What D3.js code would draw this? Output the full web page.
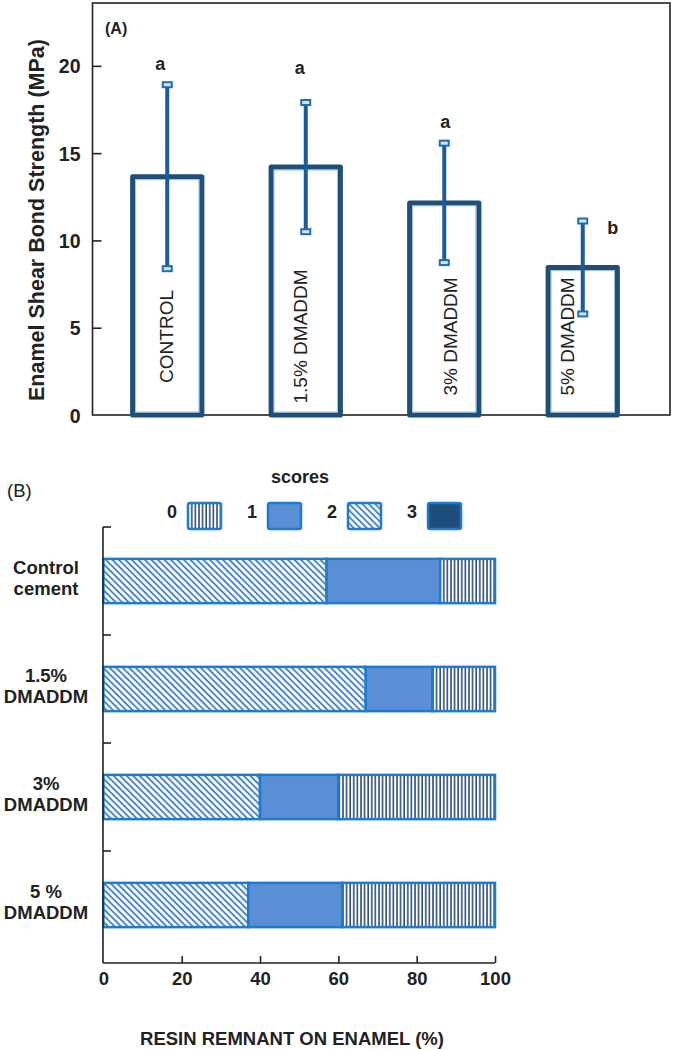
<!DOCTYPE html>
<html><head><meta charset="utf-8">
<script src="https://cdn.jsdelivr.net/npm/d3@7"></script>
<style>
html,body{margin:0;padding:0;background:#fff;}
svg{display:block;font-family:"Liberation Sans",Arial,sans-serif;}
</style></head>
<body>
<svg id="c" width="674" height="1050"></svg>
<script>
// ---------- Panel A data ----------
const catsA = ["CONTROL", "1.5% DMADDM", "3% DMADDM", "5% DMADDM"];
const meansA = [13.65, 14.2, 12.15, 8.45];
const sdA = [5.27, 3.7, 3.42, 2.66];
const lettersA = ["a", "a", "a", "b"];
const ticksA = [0, 5, 10, 15, 20];

// ---------- Panel B data ----------
const catsB = ["Control cement", "1.5% DMADDM", "3% DMADDM", "5 % DMADDM"];
const score0 = [14, 16, 40, 39];
const score1 = [29, 17, 20, 24];
const score2 = [57, 67, 40, 37];
const score3 = [0, 0, 0, 0];
const scoreKeys = ["0", "1", "2", "3"];
const ticksB = [0, 20, 40, 60, 80, 100];

const svg = d3.select("#c");
const NAVY = "#1f4e79", BLUE = "#1f7bd0", SOLID = "#5a8fd5", AX = "#222";

// ---------- defs ----------
const defs = svg.append("defs");
const ph = defs.append("pattern").attr("id", "hatch").attr("patternUnits", "userSpaceOnUse")
  .attr("width", 4.6).attr("height", 4.6).attr("patternTransform", "rotate(-45)");
ph.append("rect").attr("width", 4.6).attr("height", 4.6).attr("fill", "#fff");
ph.append("line").attr("x1", 1).attr("y1", 0).attr("x2", 1).attr("y2", 4.6)
  .attr("stroke", "#3d7fcf").attr("stroke-width", 1.8);
const pv = defs.append("pattern").attr("id", "vstripe").attr("patternUnits", "userSpaceOnUse")
  .attr("width", 3.6).attr("height", 10);
pv.append("rect").attr("width", 3.6).attr("height", 10).attr("fill", "#fff");
pv.append("line").attr("x1", 1).attr("y1", 0).attr("x2", 1).attr("y2", 10)
  .attr("stroke", "#2f4f7a").attr("stroke-width", 1.6);

const fills = {"0": "url(#vstripe)", "1": SOLID, "2": "url(#hatch)", "3": NAVY};

// ================= PANEL A =================
const A = {left: 92.5, right: 670, top: 3, bottom: 415};
const yA = d3.scaleLinear().domain([0, 23.6]).range([A.bottom, A.top]);
const xA = d3.scaleBand().domain(catsA).range([98, 652]).paddingInner(0.5).paddingOuter(0.25);

const gA = svg.append("g");
const yAxA = gA.append("g").attr("transform", `translate(${A.left},0)`)
  .call(d3.axisLeft(yA).tickValues(ticksA).tickSize(-9).tickPadding(12));
yAxA.select(".domain").remove();
yAxA.selectAll(".tick line").attr("stroke", AX).attr("stroke-width", 1.6);
yAxA.selectAll(".tick text").attr("fill", "#222").style("font-size", "19.5px").style("font-weight", "bold")
  .attr("dy", "0.36em");
yAxA.selectAll(".tick").filter(d => d === 0).select("line").remove();

gA.append("rect").attr("x", A.left).attr("y", A.top).attr("width", A.right - A.left)
  .attr("height", A.bottom - A.top).attr("fill", "none").attr("stroke", AX).attr("stroke-width", 1.6);

gA.append("text").attr("x", 37).attr("y", 220).attr("transform", "rotate(-90,37,220)")
  .attr("text-anchor", "middle").attr("dominant-baseline", "central")
  .style("font-size", "21.5px").style("font-weight", "bold").attr("fill", "#222")
  .text("Enamel Shear Bond Strength (MPa)");

gA.append("text").attr("x", 105).attr("y", 28).attr("dominant-baseline", "central")
  .style("font-size", "16px").style("font-weight", "bold").attr("fill", "#222").text("(A)");

// bars
catsA.forEach((c, i) => {
  const x0 = xA(c), w = xA.bandwidth(), yt = yA(meansA[i]), yb = yA(0);
  gA.append("rect").attr("x", x0).attr("y", yt).attr("width", w).attr("height", yb - yt)
    .attr("fill", "#fff").attr("stroke", NAVY).attr("stroke-width", 5).attr("stroke-linejoin", "round");
  gA.append("rect").attr("x", x0 + 3).attr("y", yt + 3).attr("width", w - 6).attr("height", yb - yt - 6)
    .attr("fill", "none").attr("stroke", "#8fb8e3").attr("stroke-width", 0.8);
});

// inner labels
const labelDx = [-1, -5, 6, -15];
catsA.forEach((c, i) => {
  const cx = xA(c) + xA.bandwidth() / 2 + labelDx[i], cy = yA(4.5);
  gA.append("text").attr("x", cx).attr("y", cy).attr("transform", `rotate(-90,${cx},${cy})`)
    .attr("text-anchor", "middle").attr("dominant-baseline", "central")
    .style("font-size", "19px").attr("fill", "#222").text(c);
});

// error bars
catsA.forEach((c, i) => {
  const cx = xA(c) + xA.bandwidth() / 2;
  const yHi = yA(meansA[i] + sdA[i]), yLo = yA(meansA[i] - sdA[i]);
  gA.append("line").attr("x1", cx).attr("x2", cx).attr("y1", yHi).attr("y2", yLo)
    .attr("stroke", "#1f5a98").attr("stroke-width", 4);
  [yHi, yLo].forEach(yy => {
    gA.append("rect").attr("x", cx - 4.5).attr("y", yy - 2.5).attr("width", 9).attr("height", 5)
      .attr("fill", "#d6e6f6").attr("stroke", "#1f6cb8").attr("stroke-width", 2);
  });
});

// letters
const letterOff = [[-7, -21], [-6, -35], [1, -21], [30, 7]];
catsA.forEach((c, i) => {
  const cx = xA(c) + xA.bandwidth() / 2 + letterOff[i][0];
  const cy = yA(meansA[i] + sdA[i]) + letterOff[i][1];
  gA.append("text").attr("x", cx).attr("y", cy).attr("text-anchor", "middle").attr("dominant-baseline", "central")
    .style("font-size", "18px").style("font-weight", "bold").attr("fill", "#222").text(lettersA[i]);
});

// ================= PANEL B =================
const xB = d3.scaleLinear().domain([0, 100]).range([103.4, 495]);
const yB = d3.scaleBand().domain(catsB).range([527, 959]).paddingInner(0.59).paddingOuter(0.295);
const gB = svg.append("g");
const axisY = 963, axisX = 103;

gB.append("text").attr("x", 7).attr("y", 490).attr("dominant-baseline", "central")
  .style("font-size", "18.5px").attr("fill", "#222").text("(B)");

// legend
gB.append("text").attr("x", 300).attr("y", 477).attr("text-anchor", "middle").attr("dominant-baseline", "central")
  .style("font-size", "18px").style("font-weight", "bold").attr("fill", "#222").text("scores");
const xLeg = d3.scalePoint().domain(scoreKeys).range([188, 428]);
scoreKeys.forEach(k => {
  const bx = xLeg(k);
  gB.append("text").attr("x", bx - 11).attr("y", 512).attr("text-anchor", "end").attr("dominant-baseline", "central")
    .style("font-size", "18px").style("font-weight", "bold").attr("fill", "#222").text(k);
  gB.append("rect").attr("x", bx).attr("y", 503).attr("width", 33).attr("height", 26).attr("rx", 2)
    .attr("fill", fills[k]).attr("stroke", BLUE).attr("stroke-width", 2.5);
});

// stacked bars
const rows = catsB.map((c, i) => ({cat: c, "0": score0[i], "1": score1[i], "2": score2[i], "3": score3[i]}));
const stack = d3.stack().keys(["2", "1", "0", "3"])(rows);
stack.forEach(layer => {
  layer.forEach(seg => {
    const w = xB(seg[1]) - xB(seg[0]);
    if (w <= 0) return;
    gB.append("rect").attr("x", xB(seg[0])).attr("y", yB(seg.data.cat))
      .attr("width", w).attr("height", yB.bandwidth())
      .attr("fill", fills[layer.key]).attr("stroke", BLUE).attr("stroke-width", 2.5);
  });
});

// y axis (left line with ticks at band boundaries)
const bounds = catsB.map(c => yB(c) - yB.step() * yB.paddingInner() / 2);
gB.append("line").attr("x1", axisX).attr("x2", axisX).attr("y1", bounds[0]).attr("y2", axisY)
  .attr("stroke", AX).attr("stroke-width", 1.6);
bounds.forEach(b => {
  gB.append("line").attr("x1", axisX).attr("x2", axisX + 8).attr("y1", b).attr("y2", b)
    .attr("stroke", AX).attr("stroke-width", 1.6);
});

// category labels
catsB.forEach(c => {
  const k = c.lastIndexOf(" ");
  const l1 = c.slice(0, k), l2 = c.slice(k + 1);
  const cy = yB(c) + yB.bandwidth() / 2;
  const t = gB.append("text").attr("text-anchor", "middle").style("font-size", "18.5px")
    .style("font-weight", "bold").attr("fill", "#222");
  t.append("tspan").attr("x", 46).attr("y", cy - 14).attr("dominant-baseline", "central").text(l1);
  t.append("tspan").attr("x", 46).attr("y", cy + 7).attr("dominant-baseline", "central").text(l2);
});

// x axis
const xAx = gB.append("g").attr("transform", `translate(0,${axisY})`)
  .call(d3.axisBottom(xB).tickValues(ticksB).tickSize(-7).tickSizeOuter(0).tickPadding(9));
xAx.select(".domain").attr("stroke", AX).attr("stroke-width", 1.6).attr("d", `M${axisX},0H${xB(100)}`);
xAx.selectAll(".tick line").attr("stroke", AX).attr("stroke-width", 1.6);
xAx.selectAll(".tick").filter(d => d === 0).select("line").remove();
xAx.selectAll(".tick text").attr("fill", "#222").style("font-size", "18.5px").style("font-weight", "bold");

gB.append("text").attr("x", 292).attr("y", 1038).attr("text-anchor", "middle").attr("dominant-baseline", "central")
  .style("font-size", "18.5px").style("font-weight", "bold").attr("fill", "#222")
  .text("RESIN REMNANT ON ENAMEL (%)");
</script>
</body></html>
